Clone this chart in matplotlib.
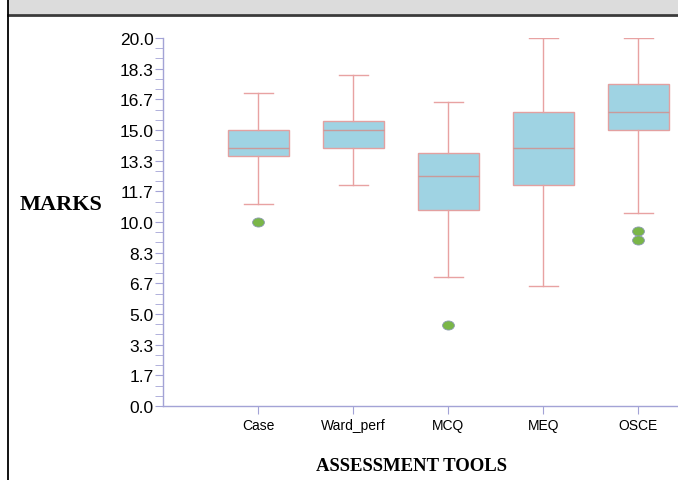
import matplotlib
matplotlib.use("Agg")
import matplotlib.pyplot as plt
from matplotlib import font_manager
from matplotlib.path import Path
from matplotlib.transforms import Affine2D
from matplotlib.patches import Rectangle
from matplotlib.lines import Line2D
import numpy as np

# ---- data ----
categories = ["Case", "Ward_perf", "MCQ", "MEQ", "OSCE"]
whisker_low = [11.0, 12.0, 7.0, 6.5, 10.5]
q1 = [13.6, 14.0, 10.67, 12.0, 15.0]
median = [14.0, 15.0, 12.5, 14.0, 16.0]
q3 = [15.0, 15.5, 13.75, 16.0, 17.5]
whisker_high = [17.0, 18.0, 16.5, 20.0, 20.0]
outliers = [[10.0], [], [4.4], [], [9.5, 9.0]]
ytick_values = [0.0, 1.7, 3.3, 5.0, 6.7, 8.3, 10.0, 11.7, 13.3, 15.0, 16.7, 18.3, 20.0]

names = {f.name for f in font_manager.fontManager.ttflist}
narrow = "Liberation Sans Narrow" if "Liberation Sans Narrow" in names else "Liberation Sans"

W, H = 678, 481
fig = plt.figure(figsize=(W / 100, H / 100), dpi=100)

# banner and border
fig.patches.append(Rectangle((8 / W, 1 - 15 / H), 1 - 8 / W, 15 / H, transform=fig.transFigure,
                             facecolor="#dcdcdc", edgecolor="none", zorder=0))
fig.lines.append(Line2D([8 / W, 1], [1 - 16 / H, 1 - 16 / H], transform=fig.transFigure,
                        color="#3a3a3a", lw=2))
fig.lines.append(Line2D([7.5 / W, 7.5 / W], [0, 1], transform=fig.transFigure,
                        color="black", lw=1.3))

ax = fig.add_axes([163.4 / W, 74 / H, 1 - 163.4 / W, (407 - 39) / H])

stats = []
for i, c in enumerate(categories):
    stats.append(dict(label=c, whislo=whisker_low[i], q1=q1[i], med=median[i],
                      q3=q3[i], whishi=whisker_high[i], fliers=outliers[i]))

ell = Path.unit_circle().transformed(Affine2D().scale(1.3, 1.0))
red = "#e8a2a2"
ax.bxp(stats, positions=np.arange(1, len(categories) + 1), widths=0.65,
       capwidths=0.31, patch_artist=True, manage_ticks=False,
       boxprops=dict(facecolor="#9fd3e3", edgecolor="#e3a0a0", linewidth=1.0),
       medianprops=dict(color="#c99a9a", linewidth=1.0),
       whiskerprops=dict(color=red, linewidth=1.0),
       capprops=dict(color=red, linewidth=1.0),
       flierprops=dict(marker=ell, markersize=8.5, markerfacecolor="#7ab648",
                       markeredgecolor="#8a9ab0", markeredgewidth=0.6, linestyle="none"))

ax.set_xlim(0, (W - 163.4) / 95.0)
ax.set_ylim(0, 20)

axis_col = "#a3a3d6"
for s in ["top", "right"]:
    ax.spines[s].set_visible(False)
for s in ["left", "bottom"]:
    ax.spines[s].set_color(axis_col)
    ax.spines[s].set_linewidth(1.0)

yt = np.linspace(0, 20, 13)
ax.set_yticks(yt)
ax.set_yticklabels([f"{v:.1f}" for v in ytick_values], family="Liberation Sans", fontsize=12.5)
ax.set_yticks(np.linspace(0, 20, 37), minor=True)
ax.tick_params(axis="y", which="both", length=6, color=axis_col, pad=1, labelcolor="black")

ax.set_xticks(np.arange(1, len(categories) + 1))
ax.set_xticklabels(categories, family=narrow, fontsize=10)
ax.tick_params(axis="x", length=6, color=axis_col, pad=3)

fig.text(20 / W, 1 - 205 / H, "MARKS", family="Liberation Serif", weight="bold",
         fontsize=16, ha="left", va="center")
fig.text(412 / W, 1 - 467 / H, "ASSESSMENT TOOLS", family="Liberation Serif", weight="bold",
         fontsize=13.5, ha="center", va="center")

fig.savefig("out.png", dpi=100)
